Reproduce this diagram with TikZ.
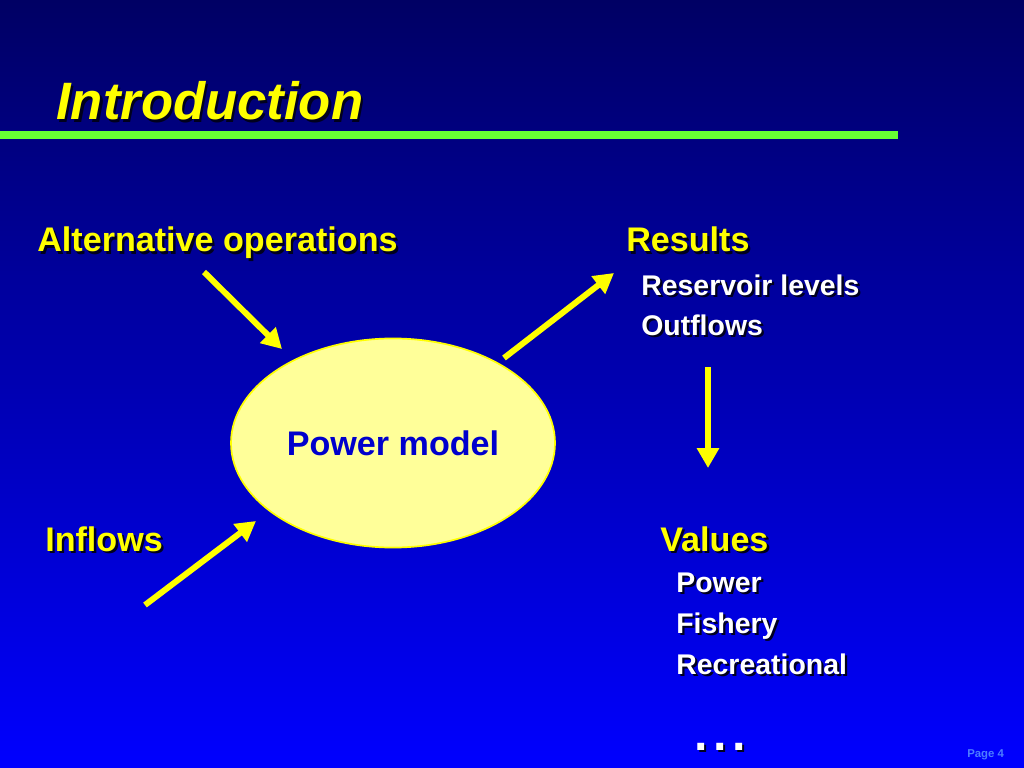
\documentclass[tikz,border=0pt]{standalone}
\usepackage{fontspec}
\setmainfont{Liberation Sans}
\usetikzlibrary{arrows.meta,shapes.geometric}
\definecolor{slidetop}{RGB}{0,0,100}
\definecolor{slidebottom}{RGB}{0,0,255}
\definecolor{rulegreen}{RGB}{102,255,51}
\definecolor{flowyellow}{RGB}{255,255,0}
\definecolor{modelfill}{RGB}{255,255,153}
\definecolor{modeltext}{RGB}{0,0,204}
\definecolor{pagetext}{RGB}{77,125,255}
\definecolor{textshadow}{RGB}{0,0,30}
\newcommand{\shadowed}[2]{\makebox[0pt][l]{\hspace{1.6pt}\raisebox{-1.6pt}{\color{textshadow}#2}}{\color{#1}#2}}

\begin{document}
\begin{tikzpicture}[x=0.703125pt,y=-0.703125pt]
\tikzstyle{title}=[font=\fontsize{37}{40}\selectfont\bfseries\itshape,anchor=base west,inner sep=0pt]
\tikzstyle{head}=[font=\fontsize{24}{28}\selectfont\bfseries,anchor=base west,inner sep=0pt]
\tikzstyle{item}=[font=\fontsize{20}{24}\selectfont\bfseries,anchor=base west,inner sep=0pt]
\tikzstyle{model}=[ellipse,draw=flowyellow,line width=1.2pt,fill=modelfill,minimum width=227.8pt,minimum height=147pt,inner sep=0pt]
\tikzstyle{flow}=[draw=flowyellow,line width=4.2pt,-{Triangle[length=14pt,width=15pt]}]
% background and title bar
\shade[top color=slidetop,bottom color=slidebottom] (0,0) rectangle (1024,768);
\useasboundingbox (0,0) rectangle (1024,768);
\node[title] (title) at (56,120) {\shadowed{flowyellow}{Introduction}};
\fill[rulegreen] (0,131) rectangle (898,139);
% the model
\node[model] (model) at (393,443) {};
\node[font=\fontsize{24}{28}\selectfont\bfseries,text=modeltext] (modellabel) at (393,443) {Power model};
% inputs
\node[head] (alt) at (37,252) {\shadowed{flowyellow}{Alternative operations}};
\node[head] (inflows) at (45,551) {\shadowed{flowyellow}{Inflows}};
% outputs
\node[head] (results) at (626,252) {\shadowed{flowyellow}{Results}};
\node[item] (levels) at (641,295) {\shadowed{white}{Reservoir levels}};
\node[item] (outflows) at (641,335) {\shadowed{white}{Outflows}};
\node[head] (values) at (660,551) {\shadowed{flowyellow}{Values}};
\node[item] (power) at (676,592) {\shadowed{white}{Power}};
\node[item] (fishery) at (676,633) {\shadowed{white}{Fishery}};
\node[item] (recreation) at (676,674) {\shadowed{white}{Recreational}};
\node[head,font=\fontsize{34}{36}\selectfont\bfseries] (more) at (694,750) {\shadowed{white}{.\hspace{4pt}.\hspace{4pt}.}};
\node[font=\fontsize{8}{10}\selectfont\bfseries,text=pagetext,anchor=base west,inner sep=0pt] (page) at (967,757) {Page 4};
% arrow ends
\coordinate (altout) at (204,272);
\coordinate (modeltop) at (282,349);
\coordinate (modelout) at (504,358);
\coordinate (resultsin) at (614,273);
\coordinate (inflowsout) at (145,605);
\coordinate (modelbottom) at (256,521);
\coordinate (outflowsout) at (708,367);
\coordinate (valuesin) at (708,468);
\draw[flow] (altout) -- (modeltop);
\draw[flow] (modelout) -- (resultsin);
\draw[flow] (inflowsout) -- (modelbottom);
\draw[flow] (outflowsout) -- (valuesin);
\end{tikzpicture}
\end{document}
